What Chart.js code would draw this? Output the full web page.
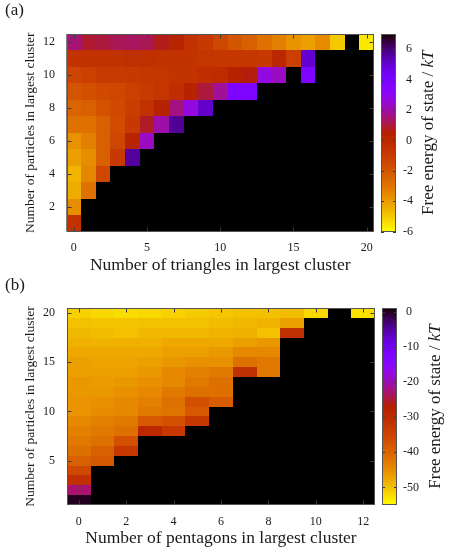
<!DOCTYPE html>
<html>
<head>
<meta charset="utf-8">
<script src="https://cdn.jsdelivr.net/npm/chart.js@4.4.1/dist/chart.umd.min.js"></script>
<style>
html, body { margin: 0; padding: 0; background: #fff; }
#wrap { position: relative; width: 458px; height: 552px; }
canvas { position: absolute; left: 0; }
#chartA { top: 0; }
#chartB { top: 276px; }
</style>
</head>
<body>
<div id="wrap">
<canvas id="chartA" width="458" height="276"></canvas>
<canvas id="chartB" width="458" height="276"></canvas>
</div>
<script>
// (a) triangles: rows follow particleCountsA (12 at the top), null = no state
const triangleCounts = [0,1,2,3,4,5,6,7,8,9,10,11,12,13,14,15,16,17,18,19,20];
const particleCountsA = [12,11,10,9,8,7,6,5,4,3,2,1];
const freeEnergyA = [
    [1.5, 0.9, 1.0, 1.2, 1.3, 1.2, 0.7, 0.2, -0.5, -0.9, -1.5, -2.0, -2.4, -2.9, -3.3, -3.8, -4.1, -3.6, -5.0, null, -5.6],
    [-0.6, -0.5, -0.5, -0.5, -0.4, -0.4, -0.5, -0.5, -0.6, -0.7, -0.8, -0.8, -0.8, -0.9, 0.0, -1.2, 5.0],
    [-1.4, -1.2, -1.0, -1.0, -0.9, -0.8, -0.7, -0.6, -0.6, -0.3, -0.2, 0.4, 0.6, 2.7, 2.3, null, 3.8],
    [-2.0, -1.8, -1.6, -1.5, -1.2, -1.0, -0.7, -0.3, 0.3, 1.0, 1.8, 3.8, 3.8],
    [-2.5, -2.4, -1.9, -1.6, -1.1, -0.5, 0.3, 1.6, 2.7, 5.1],
    [-2.9, -2.9, -2.4, -1.7, -0.9, 0.8, 2.0, 5.7],
    [-3.8, -3.3, -2.4, -1.5, 0.2, 2.3],
    [-4.1, -3.7, -2.4, -0.9, 5.6],
    [-4.6, -3.5, -1.5],
    [-4.4, -2.9],
    [-3.7],
    [-0.5]
];
const xTicksA = [0, 5, 10, 15, 20];
const yTicksA = [2, 4, 6, 8, 10, 12];
const cbTicksA = [-6, -4, -2, 0, 2, 4, 6];
const cbRangeA = [-6, 7];

// (b) pentagons: rows follow particleCountsB (20 at the top)
const pentagonCounts = [0,1,2,3,4,5,6,7,8,9,10,11,12];
const particleCountsB = [20,19,18,17,16,15,14,13,12,11,10,9,8,7,6,5,4,3,2,1];
const freeEnergyB = [
    [-51.3, -52.0, -52.3, -52.0, -51.5, -50.8, -50.4, -50.0, -50.0, -49.6, -52.0, null, -52.6],
    [-50.0, -50.3, -50.3, -50.0, -50.0, -50.0, -49.6, -49.2, -48.8, -46.9],
    [-49.2, -49.6, -50.0, -49.2, -49.2, -49.2, -48.8, -48.5, -50.0, -31.2],
    [-48.5, -48.8, -48.5, -48.5, -47.7, -47.7, -47.7, -46.9, -46.1],
    [-47.7, -47.7, -47.7, -47.7, -46.9, -46.9, -46.1, -44.4, -44.4],
    [-46.9, -47.3, -47.3, -46.9, -46.1, -45.3, -45.3, -41.6, -42.6],
    [-46.9, -46.9, -46.9, -46.1, -44.4, -43.5, -42.6, -31.2, -42.6],
    [-46.1, -46.5, -46.1, -45.3, -44.4, -42.6, -41.6],
    [-46.1, -46.1, -45.3, -44.4, -42.6, -41.6, -41.6],
    [-45.7, -45.3, -44.4, -43.5, -41.6, -37.1, -39.0],
    [-45.7, -44.8, -44.4, -42.6, -42.0, -38.3],
    [-44.4, -43.5, -42.6, -38.3, -37.1, -32.8],
    [-43.5, -42.6, -41.6, -29.2, -32.8],
    [-42.6, -41.6, -37.1],
    [-41.6, -39.4, -32.8],
    [-39.4, -38.3],
    [-35.7],
    [-31.2],
    [-23.0],
    [0.0]
];
const xTicksB = [0, 2, 4, 6, 8, 10, 12];
const yTicksB = [5, 10, 15, 20];
const cbTicksB = [-50, -40, -30, -20, -10, 0];
const cbRangeB = [-55, 1];

const FONT = "'Liberation Serif', 'Times New Roman', serif";
const INK = '#1a1a1a';

// gnuplot rgbformulae 7,5,15, running from the top of the colour range (dark) to the bottom (yellow)
function paletteColor(t){
    t = Math.min(1, Math.max(0, t));
    var r = Math.sqrt(t);
    var g = t * t * t;
    var b = Math.max(0, Math.sin(2 * Math.PI * t));
    return 'rgb(' + Math.round(r * 255) + ',' + Math.round(g * 255) + ',' + Math.round(b * 255) + ')';
}

function cellPoints(xs, ys, rows){
    var pts = [];
    ys.forEach(function(y, i){
        rows[i].forEach(function(v, j){
            if (v !== null && v !== undefined) pts.push({x: xs[j], y: y, v: v});
        });
    });
    return pts;
}

function line(ctx, x0, y0, x1, y1){
    ctx.beginPath();
    ctx.moveTo(x0, y0);
    ctx.lineTo(x1, y1);
    ctx.stroke();
}

function makePanel(canvasId, p){
    var cbMin = p.cbRange[0], cbMax = p.cbRange[1];
    var tOf = function(v){ return (cbMax - v) / (cbMax - cbMin); };

    var heatmap = {
        id: 'heatmap',
        beforeDatasetsDraw: function(chart){
            var ctx = chart.ctx, area = chart.chartArea;
            var xs = chart.scales.x, ys = chart.scales.y;
            ctx.save();
            ctx.fillStyle = '#000';
            ctx.fillRect(area.left, area.top, area.width, area.height);
            chart.data.datasets[0].data.forEach(function(c){
                var x0 = Math.round(xs.getPixelForValue(c.x - 0.5));
                var x1 = Math.round(xs.getPixelForValue(c.x + 0.5));
                var y0 = Math.round(ys.getPixelForValue(c.y + 0.5));
                var y1 = Math.round(ys.getPixelForValue(c.y - 0.5));
                ctx.fillStyle = paletteColor(tOf(c.v));
                ctx.fillRect(x0, y0, x1 - x0, y1 - y0);
            });
            ctx.restore();
        },
        afterDraw: function(chart){
            var ctx = chart.ctx, area = chart.chartArea;
            var xs = chart.scales.x, ys = chart.scales.y, cb = chart.scales.cb;
            var L = Math.round(area.left) + 0.5, R = Math.round(area.right) - 0.5;
            var T = Math.round(area.top) + 0.5, B = Math.round(area.bottom) - 0.5;
            ctx.save();
            ctx.lineWidth = 1;
            // mirrored inward ticks
            ctx.strokeStyle = '#3a3a3a';
            xs.ticks.forEach(function(t){
                var px = Math.round(xs.getPixelForValue(t.value)) + 0.5;
                line(ctx, px, T, px, T + 4);
                line(ctx, px, B, px, B - 4);
            });
            ys.ticks.forEach(function(t){
                var py = Math.round(ys.getPixelForValue(t.value)) + 0.5;
                line(ctx, L, py, L + 4, py);
                line(ctx, R, py, R - 4, py);
            });
            ctx.strokeStyle = '#555';
            ctx.strokeRect(L, T, R - L, B - T);

            // colour box
            var bx0 = Math.round(area.right) + 7, bx1 = bx0 + 15;
            for (var py = Math.round(cb.top); py < Math.round(cb.bottom); py++) {
                ctx.fillStyle = paletteColor(tOf(cb.getValueForPixel(py + 0.5)));
                ctx.fillRect(bx0, py, bx1 - bx0, 1);
            }
            ctx.strokeStyle = '#3a3a3a';
            cb.ticks.forEach(function(t){
                var py = Math.round(cb.getPixelForValue(t.value)) + 0.5;
                line(ctx, bx0, py, bx0 + 3, py);
                line(ctx, bx1, py, bx1 - 3, py);
            });
            ctx.strokeStyle = '#555';
            ctx.strokeRect(bx0 + 0.5, Math.round(cb.top) + 0.5, bx1 - bx0 - 1, Math.round(cb.bottom) - Math.round(cb.top) - 1);

            // colour box title, "kT" in italics
            ctx.translate(area.right + p.cbTitleOffset, (area.top + area.bottom) / 2);
            ctx.rotate(-Math.PI / 2);
            ctx.fillStyle = INK;
            ctx.textBaseline = 'middle';
            ctx.textAlign = 'left';
            var plain = 'Free energy of state / ';
            ctx.font = '17px ' + FONT;
            var w1 = ctx.measureText(plain).width;
            ctx.font = 'italic 17px ' + FONT;
            var w2 = ctx.measureText('kT').width;
            var sx = -(w1 + w2) / 2;
            ctx.font = '17px ' + FONT;
            ctx.fillText(plain, sx, 0);
            ctx.font = 'italic 17px ' + FONT;
            ctx.fillText('kT', sx + w1, 0);
            ctx.restore();

            // panel label
            ctx.save();
            ctx.fillStyle = INK;
            ctx.font = '17px ' + FONT;
            ctx.textBaseline = 'alphabetic';
            ctx.fillText(p.label, 5, p.labelY);
            ctx.restore();
        }
    };

    var setTicks = function(list){
        return function(scale){ scale.ticks = list.map(function(v){ return {value: v}; }); };
    };
    var tickFont = {family: FONT, size: 12};

    return new Chart(document.getElementById(canvasId), {
        type: 'scatter',
        data: {
            datasets: [{
                data: cellPoints(p.xCats, p.yCats, p.rows),
                pointRadius: 0,
                pointHoverRadius: 0
            }]
        },
        options: {
            responsive: false,
            animation: false,
            events: [],
            layout: {padding: {top: p.top, left: 0, right: 0, bottom: 0}},
            plugins: {legend: {display: false}, tooltip: {enabled: false}},
            scales: {
                x: {
                    type: 'linear',
                    position: 'bottom',
                    min: p.xRange[0],
                    max: p.xRange[1],
                    afterBuildTicks: setTicks(p.xTicks),
                    afterFit: function(s){ s.height = p.bottomHeight; },
                    grid: {display: false, drawTicks: false},
                    border: {display: false},
                    ticks: {font: tickFont, color: INK, padding: p.xTickPad, autoSkip: false, maxRotation: 0,
                        callback: function(v){ return String(v); }},
                    title: {display: true, text: p.xTitle, color: INK, font: {family: FONT, size: 17.5},
                        padding: {top: 0, bottom: p.xTitlePad}}
                },
                y: {
                    type: 'linear',
                    position: 'left',
                    min: p.yRange[0],
                    max: p.yRange[1],
                    afterBuildTicks: setTicks(p.yTicks),
                    afterFit: function(s){ s.width = p.leftWidth; },
                    grid: {display: false, drawTicks: false},
                    border: {display: false},
                    ticks: {font: tickFont, color: INK, padding: p.yTickPad, autoSkip: false,
                        callback: function(v){ return String(v); }},
                    title: {display: true, text: 'Number of particles in largest cluster', color: INK,
                        font: {family: FONT, size: 13.5}, padding: {top: 22, bottom: 0}}
                },
                cb: {
                    type: 'linear',
                    axis: 'y',
                    position: 'right',
                    min: cbMin,
                    max: cbMax,
                    afterBuildTicks: setTicks(p.cbTicks),
                    afterFit: function(s){ s.width = p.rightWidth; },
                    grid: {display: false, drawTicks: true, tickLength: 22},
                    border: {display: false},
                    ticks: {font: tickFont, color: INK, padding: p.cbTickPad, autoSkip: false,
                        callback: function(v){ return v >= 0 ? ' ' + v : String(v); }}
                }
            }
        },
        plugins: [heatmap]
    });
}

makePanel('chartA', {
    label: '(a)', labelY: 15,
    xCats: triangleCounts, yCats: particleCountsA, rows: freeEnergyA,
    xRange: [-0.5, 20.5], yRange: [0.5, 12.5],
    xTicks: xTicksA, yTicks: yTicksA, cbTicks: cbTicksA, cbRange: cbRangeA,
    xTitle: 'Number of triangles in largest cluster',
    top: 34, leftWidth: 66.5, rightWidth: 84, bottomHeight: 44.5,
    xTickPad: 9, yTickPad: 11.5, cbTickPad: 7, xTitlePad: 0, cbTitleOffset: 55
});

makePanel('chartB', {
    label: '(b)', labelY: 14,
    xCats: pentagonCounts, yCats: particleCountsB, rows: freeEnergyB,
    xRange: [-0.5, 12.5], yRange: [0.5, 20.5],
    xTicks: xTicksB, yTicks: yTicksB, cbTicks: cbTicksB, cbRange: cbRangeB,
    xTitle: 'Number of pentagons in largest cluster',
    top: 32, leftWidth: 67, rightWidth: 83, bottomHeight: 47,
    xTickPad: 9.5, yTickPad: 12, cbTickPad: 6, xTitlePad: 3, cbTitleOffset: 61
});
</script>
</body>
</html>
